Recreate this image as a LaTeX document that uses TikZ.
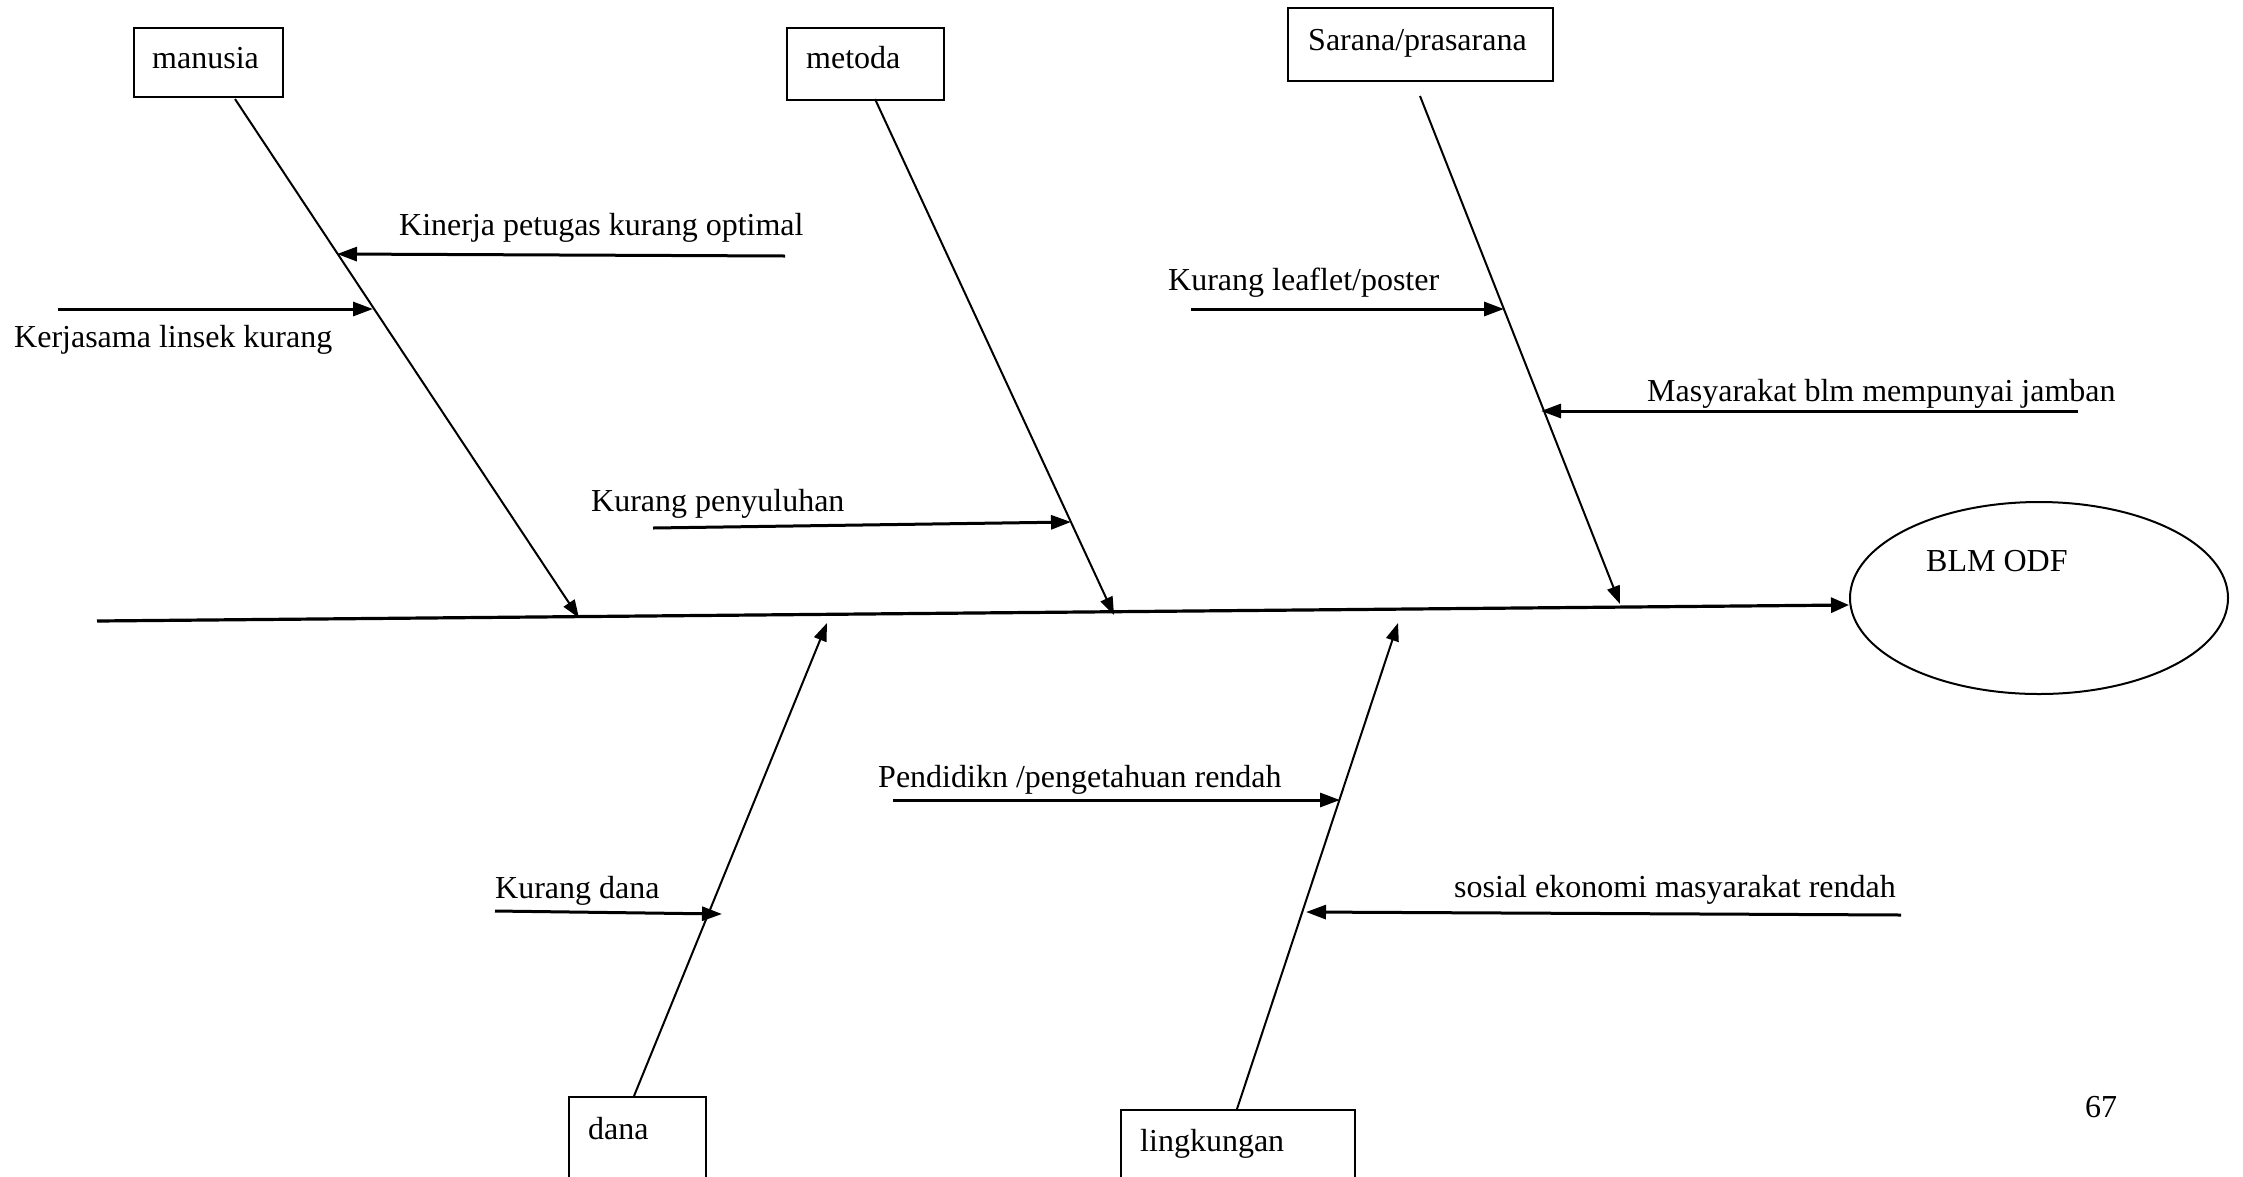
\documentclass[tikz,border=0pt]{standalone}
\usepackage{fontspec}
\setmainfont{Liberation Serif}
\usetikzlibrary{arrows.meta,shapes.geometric}
\begin{document}
\begin{tikzpicture}[x=1pt,y=-1pt,
  box/.style={draw, line width=2.2pt, inner sep=0pt, anchor=north west},
  txt/.style={anchor=base west, inner sep=0pt, font=\fontsize{32}{38}\selectfont},
  rib/.style={line width=2pt, -{Triangle[length=18pt,width=13pt]}},
  sub/.style={line width=3pt, -{Triangle[length=20pt,width=14pt]}},
  spine/.style={line width=3.2pt, -{Triangle[length=18pt,width=15pt]}}]
\useasboundingbox (0,0) rectangle (2243,1176);
\clip (0,0) rectangle (2243,1176);

% boxes
\node[box, minimum width=149pt, minimum height=69pt] (manusia) at (133,27) {};
\node[box, minimum width=157pt, minimum height=72pt] (metoda) at (786,27) {};
\node[box, minimum width=265pt, minimum height=73pt] (sarana) at (1287,7) {};
\node[box, minimum width=137pt, minimum height=120pt] (dana) at (568,1096) {};
\node[box, minimum width=234pt, minimum height=120pt] (lingkungan) at (1120,1109) {};
\node[draw, ellipse, line width=2pt, minimum width=378pt, minimum height=192pt, inner sep=0pt] (blm) at (2039,598) {};

% box texts
\node[txt] (tmanusia) at (152,68) {manusia};
\node[txt] (tmetoda) at (806,68) {metoda};
\node[txt] (tsarana) at (1308,50) {Sarana/prasarana};
\node[txt] (tdana) at (588,1139) {dana};
\node[txt] (tling) at (1140,1151) {lingkungan};
\node[txt] (tblm) at (1926,571) {BLM ODF};
\node[txt] (page) at (2085,1117) {67};

% spine
\coordinate (tail) at (97,621);
\coordinate (head) at (1849,605);
\draw[spine] (tail) -- (head);

% rib coordinates
\coordinate (manusiaFoot) at (235,99);
\coordinate (manusiaTip) at (579,618);
\coordinate (metodaFoot) at (875,99);
\coordinate (metodaTip) at (1114,615);
\coordinate (saranaFoot) at (1420,96);
\coordinate (saranaTip) at (1620,604);
\coordinate (danaFoot) at (634,1096);
\coordinate (danaTip) at (827,623);
\coordinate (lingFoot) at (1237,1109);
\coordinate (lingTip) at (1398,623);

\draw[rib] (manusiaFoot) -- (manusiaTip);
\draw[rib] (metodaFoot) -- (metodaTip);
\draw[rib] (saranaFoot) -- (saranaTip);
\draw[rib] (danaFoot) -- (danaTip);
\draw[rib] (lingFoot) -- (lingTip);

% sub causes
\node[txt] (kinerja) at (399,235) {Kinerja petugas kurang optimal};
\coordinate (kinerjaS) at (785,256);
\coordinate (kinerjaE) at (337,254);
\draw[sub] (kinerjaS) -- (kinerjaE);

\node[txt] (kerjasama) at (14,347) {Kerjasama linsek kurang};
\coordinate (kerjasamaS) at (58,309);
\coordinate (kerjasamaE) at (373,309);
\draw[sub] (kerjasamaS) -- (kerjasamaE);

\node[txt] (penyuluhan) at (591,511) {Kurang penyuluhan};
\coordinate (penyuluhanS) at (653,528);
\coordinate (penyuluhanE) at (1071,522);
\draw[sub] (penyuluhanS) -- (penyuluhanE);

\node[txt] (leaflet) at (1168,290) {Kurang leaflet/poster};
\coordinate (leafletS) at (1191,309);
\coordinate (leafletE) at (1504,309);
\draw[sub] (leafletS) -- (leafletE);

\node[txt] (jamban) at (1647,401) {Masyarakat blm mempunyai jamban};
\coordinate (jambanS) at (2078,411);
\coordinate (jambanE) at (1541,411);
\draw[sub] (jambanS) -- (jambanE);

\node[txt] (kdana) at (495,898) {Kurang dana};
\coordinate (kdanaS) at (495,911);
\coordinate (kdanaE) at (722,914);
\draw[sub] (kdanaS) -- (kdanaE);

\node[txt] (pendidikan) at (878,787) {Pendidikn /pengetahuan rendah};
\coordinate (pendidikanS) at (893,800);
\coordinate (pendidikanE) at (1340,800);
\draw[sub] (pendidikanS) -- (pendidikanE);

\node[txt] (sosial) at (1454,897) {sosial ekonomi masyarakat rendah};
\coordinate (sosialS) at (1901,915);
\coordinate (sosialE) at (1306,912);
\draw[sub] (sosialS) -- (sosialE);
\end{tikzpicture}
\end{document}
